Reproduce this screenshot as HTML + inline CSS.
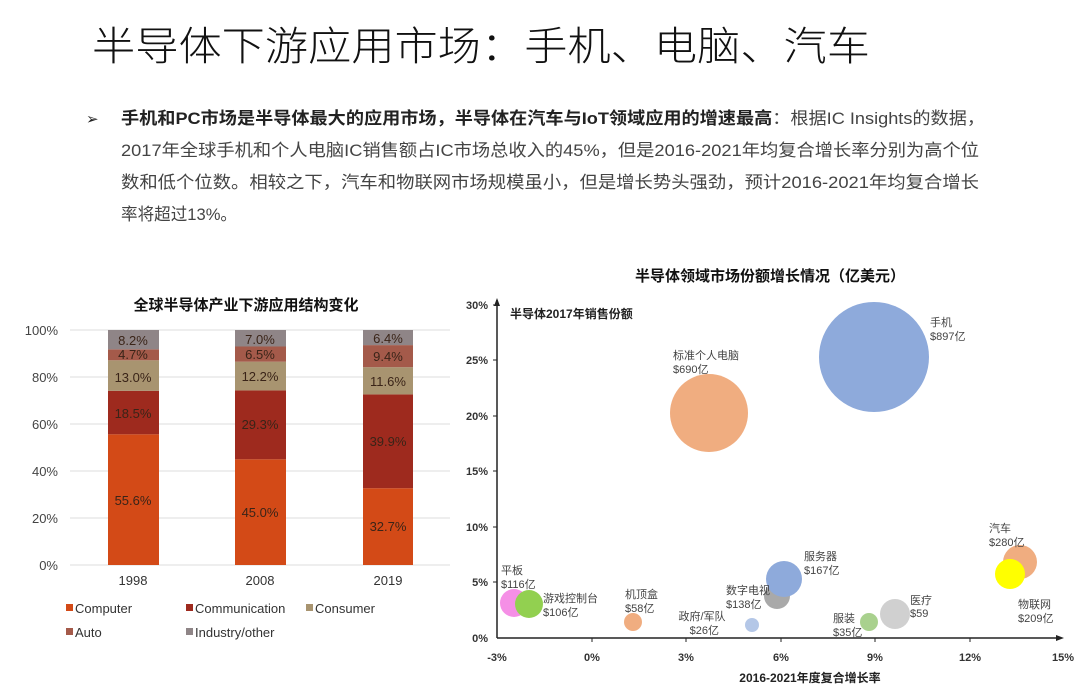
<!DOCTYPE html>
<html><head><meta charset="utf-8"><style>
html,body{margin:0;padding:0;background:#fff;}
svg{display:block;}
text{font-family:"Liberation Sans","Noto Sans CJK SC",sans-serif;}
</style></head><body>
<svg width="1080" height="690" viewBox="0 0 1080 690" xmlns="http://www.w3.org/2000/svg">
<rect width="1080" height="690" fill="#fff"/>
<!-- Title -->
<text x="92" y="60" font-size="40" fill="#111" textLength="778" lengthAdjust="spacingAndGlyphs" style="font-family:'Noto Sans CJK SC',sans-serif;font-weight:300">半导体下游应用市场：手机、电脑、汽车</text>
<!-- bullets -->
<text x="86" y="124" font-size="15" fill="#222">➢</text>
<text x="121" y="124" font-size="17" fill="#222" textLength="864" lengthAdjust="spacingAndGlyphs"><tspan font-weight="bold">手机和PC市场是半导体最大的应用市场，半导体在汽车与IoT领域应用的增速最高</tspan><tspan fill="#444">：根据IC Insights的数据，</tspan></text>
<text x="121" y="156" font-size="17" fill="#444" textLength="858" lengthAdjust="spacingAndGlyphs">2017年全球手机和个人电脑IC销售额占IC市场总收入的45%，但是2016-2021年均复合增长率分别为高个位</text>
<text x="121" y="188" font-size="17" fill="#444" textLength="858" lengthAdjust="spacingAndGlyphs">数和低个位数。相较之下，汽车和物联网市场规模虽小，但是增长势头强劲，预计2016-2021年均复合增长</text>
<text x="121" y="220" font-size="17" fill="#444" textLength="116" lengthAdjust="spacingAndGlyphs">率将超过13%。</text>

<!-- Left chart -->
<text x="246" y="310" font-size="15" font-weight="bold" text-anchor="middle" fill="#111">全球半导体产业下游应用结构变化</text>
<g stroke="#ddd" stroke-width="1">
<line x1="70" y1="330" x2="450" y2="330"/><line x1="70" y1="377" x2="450" y2="377"/>
<line x1="70" y1="424" x2="450" y2="424"/><line x1="70" y1="471" x2="450" y2="471"/>
<line x1="70" y1="518" x2="450" y2="518"/><line x1="70" y1="565" x2="450" y2="565"/>
</g>
<g font-size="13" fill="#444" text-anchor="end">
<text x="58" y="335">100%</text><text x="58" y="382">80%</text><text x="58" y="429">60%</text>
<text x="58" y="476">40%</text><text x="58" y="523">20%</text><text x="58" y="570">0%</text>
</g>
<!-- 1998 -->
<g>
<rect x="108" y="434.3" width="51" height="130.7" fill="#d34a17"/>
<rect x="108" y="390.8" width="51" height="43.5" fill="#9e2a1e"/>
<rect x="108" y="360.3" width="51" height="30.5" fill="#a89470"/>
<rect x="108" y="349.3" width="51" height="11" fill="#a45a4a"/>
<rect x="108" y="330" width="51" height="19.3" fill="#8f8587"/>
</g>
<g>
<rect x="235" y="459.3" width="51" height="105.7" fill="#d34a17"/>
<rect x="235" y="390.4" width="51" height="68.9" fill="#9e2a1e"/>
<rect x="235" y="361.7" width="51" height="28.7" fill="#a89470"/>
<rect x="235" y="346.5" width="51" height="15.2" fill="#a45a4a"/>
<rect x="235" y="330" width="51" height="16.5" fill="#8f8587"/>
</g>
<g>
<rect x="363" y="488.2" width="50" height="76.8" fill="#d34a17"/>
<rect x="363" y="394.4" width="50" height="93.8" fill="#9e2a1e"/>
<rect x="363" y="367.2" width="50" height="27.2" fill="#a89470"/>
<rect x="363" y="345.1" width="50" height="22.1" fill="#a45a4a"/>
<rect x="363" y="330" width="50" height="15.1" fill="#8f8587"/>
</g>
<g font-size="13" fill="#3a2418" text-anchor="middle">
<text x="133" y="505">55.6%</text><text x="133" y="418">18.5%</text><text x="133" y="382">13.0%</text><text x="133" y="359">4.7%</text><text x="133" y="345">8.2%</text>
<text x="260" y="517">45.0%</text><text x="260" y="429">29.3%</text><text x="260" y="381">12.2%</text><text x="260" y="359">6.5%</text><text x="260" y="344">7.0%</text>
<text x="388" y="531">32.7%</text><text x="388" y="446">39.9%</text><text x="388" y="386">11.6%</text><text x="388" y="361">9.4%</text><text x="388" y="343">6.4%</text>
</g>
<g font-size="13" fill="#333" text-anchor="middle">
<text x="133" y="585">1998</text><text x="260" y="585">2008</text><text x="388" y="585">2019</text>
</g>
<g font-size="13" fill="#333">
<rect x="66" y="604" width="7" height="7" fill="#d34a17"/><text x="75" y="613">Computer</text>
<rect x="186" y="604" width="7" height="7" fill="#9e2a1e"/><text x="195" y="613">Communication</text>
<rect x="306" y="604" width="7" height="7" fill="#a89470"/><text x="315" y="613">Consumer</text>
<rect x="66" y="628" width="7" height="7" fill="#a45a4a"/><text x="75" y="637">Auto</text>
<rect x="186" y="628" width="7" height="7" fill="#8f8587"/><text x="195" y="637">Industry/other</text>
</g>

<!-- Right chart -->
<text x="770" y="281" font-size="15" font-weight="bold" text-anchor="middle" fill="#111">半导体领域市场份额增长情况（亿美元）</text>
<line x1="497" y1="638" x2="497" y2="300" stroke="#222" stroke-width="1.5"/>
<polygon points="497,298 494,306 500,306" fill="#222"/>
<line x1="497" y1="638" x2="1060" y2="638" stroke="#222" stroke-width="1.5"/>
<polygon points="1064,638 1056,635 1056,641" fill="#222"/>
<g stroke="#222" stroke-width="1">
<line x1="493" y1="305" x2="497" y2="305"/><line x1="493" y1="360" x2="497" y2="360"/><line x1="493" y1="416" x2="497" y2="416"/>
<line x1="493" y1="471" x2="497" y2="471"/><line x1="493" y1="527" x2="497" y2="527"/><line x1="493" y1="582" x2="497" y2="582"/>
<line x1="592" y1="638" x2="592" y2="642"/><line x1="686" y1="638" x2="686" y2="642"/><line x1="781" y1="638" x2="781" y2="642"/>
<line x1="875" y1="638" x2="875" y2="642"/><line x1="970" y1="638" x2="970" y2="642"/>
</g>
<g font-size="11" font-weight="bold" fill="#333" text-anchor="end">
<text x="488" y="309">30%</text><text x="488" y="364">25%</text><text x="488" y="420">20%</text>
<text x="488" y="475">15%</text><text x="488" y="531">10%</text><text x="488" y="586">5%</text><text x="488" y="642">0%</text>
</g>
<g font-size="11" font-weight="bold" fill="#333" text-anchor="middle">
<text x="497" y="661">-3%</text><text x="592" y="661">0%</text><text x="686" y="661">3%</text><text x="781" y="661">6%</text>
<text x="875" y="661">9%</text><text x="970" y="661">12%</text><text x="1063" y="661">15%</text>
</g>
<text x="510" y="318" font-size="12" font-weight="bold" fill="#222">半导体2017年销售份额</text>
<text x="810" y="682" font-size="12" font-weight="bold" fill="#222" text-anchor="middle">2016-2021年度复合增长率</text>

<circle cx="874" cy="357" r="55" fill="#8eaadb"/>
<circle cx="709" cy="413" r="39" fill="#f0ad80"/>
<circle cx="777" cy="596" r="13" fill="#a9a9a9"/>
<circle cx="784" cy="579" r="18" fill="#8eaadb"/>
<circle cx="514" cy="603" r="14" fill="#f58fe6"/>
<circle cx="529" cy="604" r="14" fill="#92d050"/>
<circle cx="633" cy="622" r="9" fill="#f0ad80"/>
<circle cx="752" cy="625" r="7" fill="#b4c7e7"/>
<circle cx="869" cy="622" r="9" fill="#a9d18e"/>
<circle cx="895" cy="614" r="15" fill="#d0d0d0"/>
<circle cx="1020" cy="562" r="17" fill="#f0ad80"/>
<circle cx="1010" cy="574" r="15" fill="#ffff00"/>

<g font-size="11" fill="#444">
<text x="930" y="326">手机</text><text x="930" y="340">$897亿</text>
<text x="673" y="359">标准个人电脑</text><text x="673" y="373">$690亿</text>
<text x="804" y="560">服务器</text><text x="804" y="574">$167亿</text>
<text x="726" y="594">数字电视</text><text x="726" y="608">$138亿</text>
<text x="501" y="574">平板</text><text x="501" y="588">$116亿</text>
<text x="543" y="602">游戏控制台</text><text x="543" y="616">$106亿</text>
<text x="625" y="598">机顶盒</text><text x="625" y="612">$58亿</text>
<text x="702" y="620" text-anchor="middle">政府/军队</text><text x="702" y="634" text-anchor="end" dx="17">$26亿</text>
<text x="833" y="622">服装</text><text x="833" y="636">$35亿</text>
<text x="910" y="604">医疗</text><text x="910" y="617">$59</text>
<text x="989" y="532">汽车</text><text x="989" y="546">$280亿</text>
<text x="1018" y="608">物联网</text><text x="1018" y="622">$209亿</text>
</g>
</svg>
</body></html>
